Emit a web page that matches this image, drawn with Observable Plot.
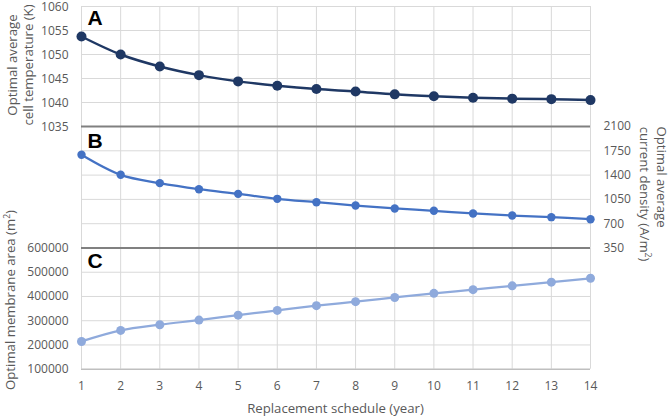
<!DOCTYPE html>
<html><head><meta charset="utf-8">
<script src="https://cdn.jsdelivr.net/npm/d3@7"></script>
<script src="https://cdn.jsdelivr.net/npm/@observablehq/plot@0.6"></script>
<style>
body{margin:0;background:#fff;}
#c{position:relative;width:671px;height:417px;font-family:"Open Sans",sans-serif;overflow:hidden;}
#c svg{position:absolute;left:0;top:0;overflow:visible;background:transparent;}
</style></head><body><div id="c"></div>
<script>
const years = [1,2,3,4,5,6,7,8,9,10,11,12,13,14];
const temperature = [1053.75,1050,1047.5,1045.7,1044.4,1043.5,1042.8,1042.3,1041.7,1041.3,1041.0,1040.8,1040.7,1040.5];
const currentDensity = [1693,1404,1284,1197,1130,1058,1010,962,919,886,847,818,794,765];
const membraneArea = [214500,260000,283500,302500,323000,342500,362000,378500,396000,413000,428000,444000,459000,475000];
const tempTicks = [1035,1040,1045,1050,1055,1060];
const densityTicks = [350,700,1050,1400,1750,2100];
const areaTicks = [100000,200000,300000,400000,500000,600000];
const panelLetters = ["A","B","C"];

const W = 671, H = 417;
const grid = "#d9d9d9", sep = "#808080", txt = "#595959";
const fmt = d => String(d);
const rowsA = years.map((x,i)=>({x, y: temperature[i]}));
const rowsB = years.map((x,i)=>({x, y: currentDensity[i]}));
const rowsC = years.map((x,i)=>({x, y: membraneArea[i]}));
const base = {
  width: W, height: H, marginLeft: 81, marginRight: 81,
  x: {domain: [1,14], axis: null},
  style: {background: "transparent", color: txt, fontFamily: "'Open Sans', sans-serif", fontSize: "12px", overflow: "visible"}
};
const letter = (l, dy) => Plot.text([l], {text: d=>d, frameAnchor: "top-left", dx: 6, dy, fontSize: 21, fontWeight: "bold", fill: "#000", fontFamily: "'Liberation Sans', Arial, sans-serif", lineAnchor: "top"});

const A = Plot.plot({...base, marginTop: 6, marginBottom: H-126,
  y: {domain: [1035,1060], axis: null},
  marks: [
    Plot.ruleX(years, {stroke: grid}),
    Plot.ruleY(tempTicks, {stroke: grid}),
    Plot.axisY({ticks: tempTicks, tickFormat: fmt, tickSize: 0, tickPadding: 13, anchor: "left", label: null, fontSize: 12, fill: txt, dy: 1}),
    Plot.line(rowsA, {x: "x", y: "y", curve: "catmull-rom", stroke: "#1f3864", strokeWidth: 2.5}),
    Plot.dot(rowsA, {x: "x", y: "y", r: 5, fill: "#1f3864"}),
    letter(panelLetters[0], 4)
  ]});
const B = Plot.plot({...base, marginTop: 126, marginBottom: H-247.5,
  y: {domain: [350,2100], axis: null},
  marks: [
    Plot.ruleX(years, {stroke: grid}),
    Plot.ruleY(densityTicks, {stroke: grid}),
    Plot.ruleY([350,2100], {stroke: sep, strokeWidth: 2}),
    Plot.axisY({ticks: densityTicks, tickFormat: fmt, tickSize: 0, tickPadding: 13, anchor: "right", label: null, fontSize: 12, fill: txt}),
    Plot.line(rowsB, {x: "x", y: "y", curve: "catmull-rom", stroke: "#4472c4", strokeWidth: 2.25}),
    Plot.dot(rowsB, {x: "x", y: "y", r: 4.2, fill: "#4472c4"}),
    letter(panelLetters[1], 7)
  ]});
const C = Plot.plot({...base, marginTop: 247.5, marginBottom: H-368.7,
  y: {domain: [100000,600000], axis: null},
  marks: [
    Plot.ruleX(years, {stroke: grid}),
    Plot.ruleY(areaTicks.slice(1,5), {stroke: grid}),
    Plot.ruleY([100000], {stroke: "#bfbfbf", strokeWidth: 1.5}),
    Plot.ruleY([600000], {stroke: sep, strokeWidth: 2}),
    Plot.axisY({ticks: areaTicks, tickFormat: fmt, tickSize: 0, tickPadding: 13, anchor: "left", label: null, fontSize: 12, fill: txt}),
    Plot.axisX({ticks: years, tickFormat: fmt, tickSize: 0, tickPadding: 12, anchor: "bottom", label: null, fontSize: 12, fill: txt}),
    Plot.line(rowsC, {x: "x", y: "y", curve: "catmull-rom", stroke: "#8faadc", strokeWidth: 2.25}),
    Plot.dot(rowsC, {x: "x", y: "y", r: 4.5, fill: "#8faadc"}),
    letter(panelLetters[2], 5.5)
  ]});
const c = document.getElementById("c");
c.append(A, B, C);

// axis titles
const svg = d3.select(c).append("svg").attr("width", W).attr("height", H)
  .style("font-family", "'Open Sans', sans-serif").style("font-size", "13.2px").attr("fill", txt);
function vtext(x, y, rot, s) {
  const t = svg.append("text").attr("transform", `translate(${x},${y}) rotate(${rot})`)
    .attr("text-anchor", "middle").attr("dominant-baseline", "central");
  s.forEach(p => { const ts = t.append("tspan").text(p[0]); if (p[1]) ts.attr("font-size", "8.5px").attr("dy", "-4"); if (p[2]) ts.attr("dy", "4"); });
}
vtext(12, 65, -90, [["Optimal average"]]);
vtext(28, 65, -90, [["cell temperature (K)"]]);
vtext(10, 300, -90, [["Optimal membrane area (m"], ["2", true], [")", false, true]]);
vtext(662, 177, 90, [["Optimal average"]]);
vtext(645, 194, 90, [["current density (A/m"], ["2", true], [")", false, true]]);
svg.append("text").attr("x", 335.5).attr("y", 408).attr("text-anchor", "middle").attr("dominant-baseline", "central").text("Replacement schedule (year)");
</script></body></html>
